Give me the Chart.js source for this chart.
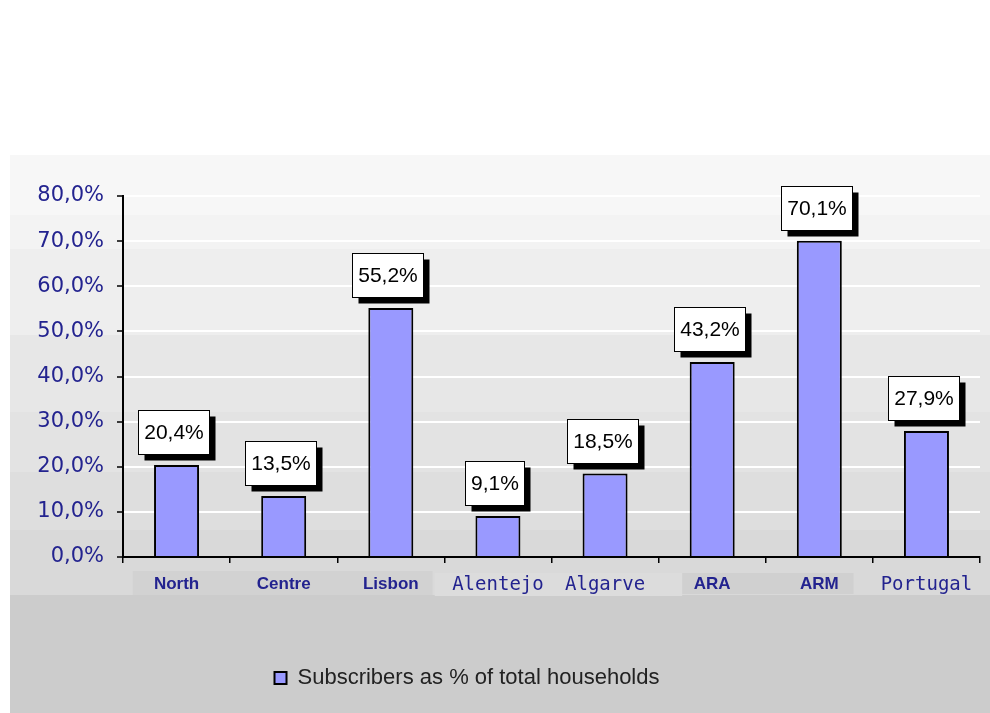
<!DOCTYPE html>
<html>
<head>
<meta charset="utf-8">
<script src="https://cdn.jsdelivr.net/npm/chart.js@4.4.1/dist/chart.umd.min.js"></script>
<style>
  html, body { margin: 0; padding: 0; background: #fff; }
</style>
</head>
<body>
<canvas id="subsChart" width="990" height="713"></canvas>
<script>
// regions and subscriber share (% of total households)
const regions = ['North', 'Centre', 'Lisbon', 'Alentejo', 'Algarve', 'ARA', 'ARM', 'Portugal'];
const subscribers = [20.4, 13.5, 55.2, 9.1, 18.5, 43.2, 70.1, 27.9];
const seriesName = 'Subscribers as % of total households';
const yMax = 80;
const yStep = 10;
// these labels use the wider typewriter-style face
const monoLabels = ['Alentejo', 'Algarve', 'Portugal'];

const navy = '#23238f';
const pct = v => v.toFixed(1).replace('.', ',') + '%';

// stepped grey panel behind the plot
const panelBg = {
  id: 'panelBg',
  beforeDraw(chart) {
    const { ctx, width, height } = chart;
    ctx.save();
    ctx.fillStyle = '#fff';
    ctx.fillRect(0, 0, width, height);
    const bands = [
      [155, '#f7f7f7'], [215, '#f3f3f3'], [249, '#eeeeee'], [335, '#e7e7e7'],
      [412, '#e3e3e3'], [472, '#dedede'], [530, '#d9d9d9'], [595, '#cccccc']
    ];
    bands.forEach(([y, c], i) => {
      const next = i < bands.length - 1 ? bands[i + 1][0] : height;
      ctx.fillStyle = c;
      ctx.fillRect(10, y, width - 10, next - y);
    });
    // label strips under the x axis
    const x = chart.scales.x;
    const cw = x.getPixelForTick(1) - x.getPixelForTick(0);
    const strip = (x0, x1, y, h, c) => { ctx.fillStyle = c; ctx.fillRect(x0, y, x1 - x0, h); };
    strip(x.getPixelForTick(0) - 0.41 * cw, x.getPixelForTick(2) + 0.39 * cw, 571, 24, '#d2d2d2');
    strip(x.getPixelForTick(2) + 0.41 * cw, x.getPixelForTick(5) - 0.28 * cw, 573, 23, '#dcdcdc');
    strip(x.getPixelForTick(5) - 0.28 * cw, x.getPixelForTick(6) + 0.32 * cw, 573, 21, '#d0d0d0');
    ctx.restore();
  }
};

// white boxes with a drop shadow holding each bar's value
const valueBoxes = {
  id: 'valueBoxes',
  afterDatasetsDraw(chart) {
    const { ctx } = chart;
    const meta = chart.getDatasetMeta(0);
    ctx.save();
    ctx.font = '21px "Liberation Sans", Arial, sans-serif';
    ctx.textAlign = 'center';
    ctx.textBaseline = 'middle';
    meta.data.forEach((bar, i) => {
      const txt = pct(subscribers[i]);
      const w = Math.round(ctx.measureText(txt).width + 11);
      const h = 44, sh = 6;
      const left = Math.round(bar.x - (w + sh) / 2) + 0.5;
      const top = Math.round(bar.y - 11 - h) + 0.5;
      ctx.fillStyle = '#000';
      ctx.fillRect(left + sh, top + sh, w, h);
      ctx.fillStyle = '#fff';
      ctx.fillRect(left, top, w, h);
      ctx.strokeStyle = '#000';
      ctx.lineWidth = 1;
      ctx.strokeRect(left, top, w, h);
      ctx.fillStyle = '#000';
      ctx.fillText(txt, left + w / 2, top + h / 2 + 1);
    });
    ctx.restore();
  }
};

// nudge the legend a little left of the canvas centre
const legendShift = {
  id: 'legendShift',
  afterLayout(chart) {
    chart.legend.left -= 23;
    chart.legend.right -= 23;
  }
};

new Chart(document.getElementById('subsChart'), {
  type: 'bar',
  data: {
    labels: regions,
    datasets: [{
      label: seriesName,
      data: subscribers,
      backgroundColor: '#9999ff',
      borderColor: '#000',
      borderWidth: 2,
      categoryPercentage: 1,
      barPercentage: 0.42
    }]
  },
  options: {
    responsive: false,
    devicePixelRatio: 1,
    animation: false,
    layout: { padding: { top: 196, right: 10, bottom: 14, left: 0 } },
    scales: {
      x: {
        grid: { display: true, drawOnChartArea: false, color: '#000', lineWidth: 1.5, tickLength: 6, offset: true },
        border: { color: '#000', width: 2 },
        ticks: {
          color: navy,
          autoSkip: false,
          maxRotation: 0,
          padding: 11,
          font: c => monoLabels.includes(regions[c.index])
            ? { family: '"DejaVu Sans Mono", monospace', size: 19 }
            : { family: '"Liberation Sans", Arial, sans-serif', size: 17, weight: 'bold' }
        },
        afterFit: s => { s.height = 100; }
      },
      y: {
        min: 0,
        max: yMax,
        grid: {
          color: c => c.tick && c.tick.value === 0 ? 'rgba(0,0,0,0)' : '#ffffff',
          lineWidth: 2,
          tickColor: '#000',
          tickWidth: 1.5,
          tickLength: 6
        },
        border: { color: '#000', width: 2 },
        ticks: {
          stepSize: yStep,
          color: navy,
          padding: 13,
          font: { family: '"DejaVu Sans", Verdana, sans-serif', size: 21 },
          callback: v => pct(v)
        },
        afterFit: s => { s.width = 123; }
      }
    },
    plugins: {
      legend: {
        position: 'bottom',
        labels: {
          boxWidth: 12,
          boxHeight: 12,
          padding: 10,
          color: '#222',
          font: { family: '"Liberation Sans", Arial, sans-serif', size: 22 }
        }
      },
      tooltip: { enabled: false }
    }
  },
  plugins: [panelBg, valueBoxes, legendShift]
});
</script>
</body>
</html>
